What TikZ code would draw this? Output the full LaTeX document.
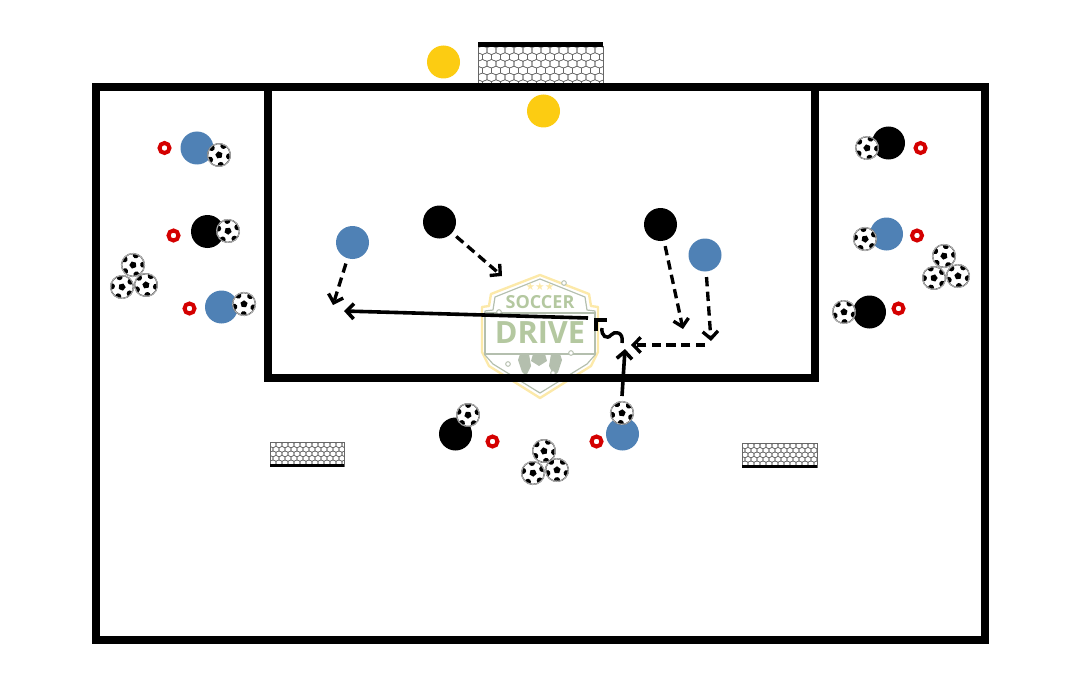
\documentclass[tikz,border=0pt]{standalone}
\usepackage{fontspec}
\usepackage{tikz}
\usetikzlibrary{arrows.meta}
\newfontfamily\logofont{Open Sans}
\newfontfamily\starfont{DejaVu Sans}

\definecolor{playerblue}{HTML}{4F81B5}
\definecolor{keeperyellow}{HTML}{FCCC12}
\definecolor{conered}{HTML}{D40000}
\definecolor{logogreen}{HTML}{B4C8A0}
\definecolor{logogray}{HTML}{B4BFAE}
\definecolor{logoyellow}{HTML}{FCE9A9}

\tikzset{
	player/.style={circle,minimum size=24.75pt,inner sep=0pt},
	blueplayer/.style={player,fill=playerblue},
	blackplayer/.style={player,fill=black},
	keeper/.style={player,fill=keeperyellow},
	cone/.style={circle,draw=conered,line width=3pt,minimum size=7.5pt,inner sep=0pt},
	field/.style={draw=black,line width=6pt},
	run/.style={->,dashed,dash pattern=on 7pt off 4pt,line width=2.5pt,shorten <=4pt},
	pass/.style={->,line width=2.7pt},
	logodot/.style={circle,draw=logogray,fill=white,line width=0.7pt,minimum size=3.5pt,inner sep=0pt},
	ball/.pic={
		\draw[fill=white,draw=black!60,line width=0.3pt] (0,0) circle (8.9pt);
		\draw[draw=black!70,line width=0.3pt] (0,0) circle (8.2pt);
		\begin{scope}
			\clip (0,0) circle (8pt);
			\fill[black] (90:2.8pt) -- (162:2.8pt) -- (234:2.8pt) -- (306:2.8pt) -- (18:2.8pt) -- cycle;
			\foreach \ang in {54,126,198,270,342}
				\fill[black] (\ang:7.6pt) circle (2.3pt);
		\end{scope}
	}
}

% net of a goal: left, top, right, bottom, size of a cell
\newcommand{\goalnet}[5]{
	\begin{scope}
		\clip (#1,#2) rectangle (#3,#4);
		\foreach \r [evaluate=\r as \off using {mod(\r,2)*0.5}] in {0,...,7}
			\foreach \c in {-1,...,15}
				\draw[black!60,line width=0.4pt,shift={({#1+(\c+\off)*#5},{#2+\r*0.75*#5})}]
					(0,0.2*#5) -- (0.5*#5,0) -- (#5,0.2*#5) -- (#5,0.75*#5) -- (0.5*#5,0.95*#5) -- (0,0.75*#5) -- cycle;
	\end{scope}
	\draw[black!60,line width=0.5pt] (#1,#2) rectangle (#3,#4);
}

\begin{document}
\begin{tikzpicture}[x=0.75pt,y=-0.75pt,>={Straight Barb[length=5.5pt,width=11.5pt]}]

	\useasboundingbox (0,0) rectangle (1079,674);

	% logo
	\draw[logoyellow,line width=1.8pt,line join=round] (540,275) -- (589,294) -- (591,306) -- (598,307) -- (598,352) -- (591,366) -- (540,398) -- (489,366) -- (482,352) -- (482,307) -- (489,306) -- (491,294) -- cycle;
	\draw[logogray,line width=0.9pt,line join=round] (540,279) -- (585,297) -- (587,310) -- (595,311) -- (595,355) -- (587,364) -- (540,393) -- (493,364) -- (485,355) -- (485,311) -- (493,310) -- (495,297) -- cycle;
	\fill[logogray] (520,354) -- (529,354) -- (531,366) -- (526,376) -- (522,372) -- (518,360) -- cycle;
	\fill[logogray] (560,354) -- (551,354) -- (549,366) -- (554,376) -- (558,372) -- (562,360) -- cycle;
	\fill[logogray] (533,354) -- (545,354) -- (547,361) -- (539,366) -- (531,361) -- cycle;
	\draw[logogray,line width=0.9pt,fill=white] (485,313) rectangle (595,354);
	\node[text=logogreen,font=\logofont\bfseries\fontsize{13.5}{13.5}\selectfont,inner sep=0pt] (soccer) at (540,302) {SOCCER};
	\node[text=logogreen,font=\logofont\bfseries\fontsize{23}{23}\selectfont,inner sep=0pt] (drive) at (540,333) {DRIVE};
	\node[text=logoyellow,font=\starfont\fontsize{8}{8}\selectfont,inner sep=0pt] (stars) at (540,287) {★★★};
	\node[logodot] (dotA) at (564,283) {};
	\node[logodot] (dotB) at (499,312) {};
	\node[logodot] (dotC) at (571,353) {};
	\node[logodot] (dotD) at (508,364) {};
	\node[logodot] (dotE) at (553,373) {};

	% goals
	\goalnet{478}{46}{603}{85}{9}
	\fill[black] (478,42) rectangle (603,47);
	\goalnet{270}{442}{344}{466}{6}
	\fill[black] (270,464) rectangle (344,467);
	\goalnet{742}{443}{817}{467}{6}
	\fill[black] (742,465) rectangle (817,468);

	% field
	\draw[field] (95.5,87) rectangle (985,640);
	\draw[field] (268,87) rectangle (815,378);

	% keepers
	\node[keeper] (keepA) at (443.5,62) {};
	\node[keeper] (keepB) at (543.5,111) {};

	% players
	\node[blueplayer] (blueA) at (197,148) {};
	\node[blueplayer] (blueB) at (221.5,307) {};
	\node[blueplayer] (blueC) at (352.5,242.5) {};
	\node[blueplayer] (blueD) at (705,255) {};
	\node[blueplayer] (blueE) at (886.5,234) {};
	\node[blueplayer] (blueF) at (622.5,434) {};
	\node[blackplayer] (blackA) at (207.5,231.5) {};
	\node[blackplayer] (blackB) at (439.5,222) {};
	\node[blackplayer] (blackC) at (660.5,224.5) {};
	\node[blackplayer] (blackD) at (888.5,143) {};
	\node[blackplayer] (blackE) at (869.5,312) {};
	\node[blackplayer] (blackF) at (455.5,434) {};

	% cones
	\node[cone] (coneA) at (164.5,148) {};
	\node[cone] (coneB) at (173.5,235.5) {};
	\node[cone] (coneC) at (189.5,308.5) {};
	\node[cone] (coneD) at (920.5,148) {};
	\node[cone] (coneE) at (917,235.5) {};
	\node[cone] (coneF) at (898.5,308.5) {};
	\node[cone] (coneG) at (492.5,441.5) {};
	\node[cone] (coneH) at (596.5,441.5) {};

	% balls
	\foreach \x/\y/\rot in {219/155/10,228/231/40,244/304/70,133/265/20,122/287/50,146/285/80,867/148/15,865/239/45,844/312/75,944/256/25,934/278/55,958/276/5,468/415/35,622/413/65,544/451/12,533/473/42,557/470/72}
		\pic[rotate=\rot] at (\x,\y) {ball};

	% runs
	\coordinate (runA) at (502,276);
	\coordinate (runB) at (333,305);
	\coordinate (runC) at (683,329);
	\coordinate (runD) at (711,341);
	\coordinate (runE) at (631,345);
	\coordinate (runF) at (705,345);
	\path[run] (blackB) edge (runA);
	\path[run] (blueC) edge (runB);
	\path[run] (blackC) edge (runC);
	\path[run] (blueD) edge (runD);
	\path[run,shorten <=0pt] (runF) edge (runE);

	% passes
	\coordinate (passA) at (588,318);
	\coordinate (passB) at (344,311);
	\coordinate (passC) at (622,396);
	\coordinate (passD) at (625,349);
	\path[pass] (passA) edge (passB);
	\path[pass] (passC) edge (passD);

	% dribble
	\coordinate (markA) at (596,331);
	\coordinate (markB) at (596,320);
	\coordinate (markC) at (607,320);
	\coordinate (dribA) at (602,328);
	\coordinate (dribB) at (622,343);
	\draw[line width=2.6pt] (markA) -- (markB) -- (markC);
	\draw[line width=2.6pt] (dribA) .. controls (601,336) and (607,340) .. (611,335) .. controls (614,331) and (624,331) .. (dribB);

\end{tikzpicture}
\end{document}
